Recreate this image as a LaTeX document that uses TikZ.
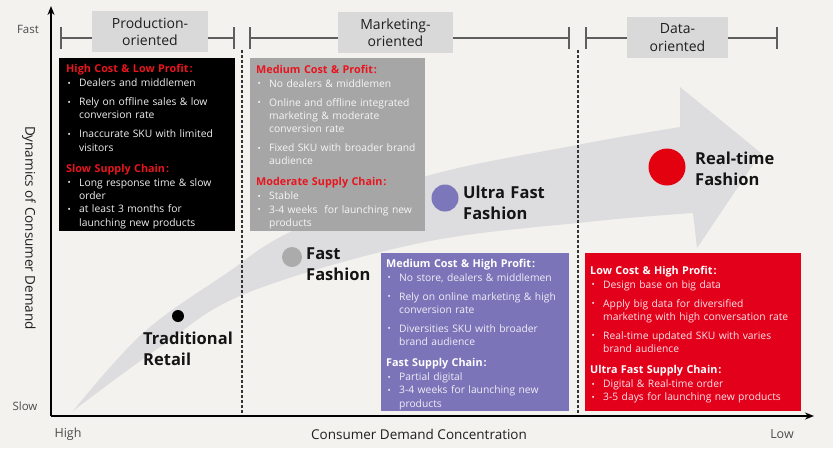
\documentclass[tikz,border=0pt]{standalone}
\usepackage{fontspec}
\setmainfont{Open Sans}
\usetikzlibrary{arrows.meta}
\definecolor{bg}{HTML}{F3F2EE}
\definecolor{bandc}{HTML}{DDDDDF}
\definecolor{lblc}{HTML}{D9D9D9}
\definecolor{gboxc}{HTML}{A6A6A6}
\definecolor{pboxc}{HTML}{7B74B8}
\definecolor{rboxc}{HTML}{E3001B}
\definecolor{hred}{HTML}{E8141E}
\definecolor{rdotc}{HTML}{E3000F}
\definecolor{pdotc}{HTML}{7B77BA}
\definecolor{gdotc}{HTML}{ABABAB}
\definecolor{brkc}{HTML}{5E5E5E}
\newcommand\hd[1]{{\bfseries\fontsize{10.8}{13.3}\selectfont #1\hspace{1pt}:}}
\newcommand\bi{\hspace*{1.5pt}\makebox[11.5pt][l]{\raisebox{0.4pt}{\fontsize{8.5}{9}\selectfont\textbullet}}}
\newcommand\ci{\hspace*{13pt}}
\tikzset{
  boxbg/.style={anchor=north west, inner sep=0pt, draw=none},
  boxtxt/.style={anchor=base west, inner sep=0pt, align=left, text width=240pt, font=\fontsize{10.3}{13.3}\selectfont},
  lblbox/.style={fill=lblc, inner sep=0pt, align=center, font=\fontsize{14}{17.5}\selectfont, text=black!88},
  brk/.style={draw=brkc, line width=1.5pt},
  dashln/.style={draw=black!80, line width=1.2pt, dash pattern=on 3pt off 2pt},
  axisln/.style={draw=black, line width=2pt, -{Stealth[length=9pt,width=7pt]}},
  dotn/.style={circle, inner sep=0pt},
  lab/.style={anchor=base west, inner sep=0pt, align=left, text width=110pt, font=\bfseries\fontsize{16.5}{21}\selectfont, text=black!92},
  axtxt/.style={inner sep=0pt, font=\fontsize{11.5}{13}\selectfont, text=black!70},
}
\begin{document}
\begin{tikzpicture}[x=1pt,y=-1pt]
\useasboundingbox (0,0) rectangle (833,448);
\fill[bg] (0,0) rectangle (833,448);

% big curved arrow
\fill[bandc] (73,411) -- plot[smooth, tension=0.6] coordinates {(73,411) (143,333) (227,273) (290,232) (420,178) (577,145) (680,127)}
  -- (680,87) -- (761,153) -- (697,248) -- (693,213)
  -- plot[smooth, tension=0.6] coordinates {(693,213) (587,222) (420,243) (247,293) (160,347) (73,411)} -- cycle;

% dashed separators
\coordinate (d1t) at (242,50); \coordinate (d1b) at (242,416);
\coordinate (d2t) at (578,50); \coordinate (d2b) at (578,416);
\draw[dashln] (d1t) -- (d1b);
\draw[dashln] (d2t) -- (d2b);

% boxes
\node[boxbg, fill=black, minimum width=176, minimum height=173] (bbox) at (59,58) {};
\node[boxbg, fill=gboxc, minimum width=175, minimum height=173] (gbox) at (250,58) {};
\node[boxbg, fill=pboxc, minimum width=188, minimum height=158] (pbox) at (381,253) {};
\node[boxbg, fill=rboxc, minimum width=216, minimum height=158] (rbox) at (585,253) {};

\node[boxtxt, text=white!94!black] (btxt) at (66,72.5) {%
{\color{hred}\hd{High Cost \& Low Profit}}\\[0.7pt]
\bi Dealers and middlemen\\[5.7pt]
\bi Rely on offline sales \& low\\
\ci conversion rate\\[5.7pt]
\bi Inaccurate SKU with limited\\
\ci visitors\\[7.7pt]
{\color{hred}\hd{Slow Supply Chain}}\\[0.7pt]
\bi Long response time \& slow\\
\ci order\\
\bi at least 3 months for\\
\ci launching new products};

\node[boxtxt, text=white!90!gboxc] (gtxt) at (256,73) {%
{\color{hred}\hd{Medium Cost \& Profit}}\\[0.7pt]
\bi No dealers \& middlemen\\[5.7pt]
\bi Online and offline integrated\\
\ci marketing \& moderate\\
\ci conversion rate\\[5.7pt]
\bi Fixed SKU with broader brand\\
\ci audience\\[7.7pt]
{\color{hred}\hd{Moderate Supply Chain}}\\[0.7pt]
\bi Stable\\
\bi 3-4 weeks\ \ for launching new\\
\ci products};

\node[boxtxt, text=white!88!pboxc] (ptxt) at (386,267) {%
{\color{white}\hd{Medium Cost \& High Profit}}\\[0.7pt]
\bi No store, dealers \& middlemen\\[5.7pt]
\bi Rely on online marketing \& high\\
\ci conversion rate\\[5.7pt]
\bi Diversities SKU with broader\\
\ci brand audience\\[7.7pt]
{\color{white}\hd{Fast Supply Chain}}\\[0.7pt]
\bi Partial digital\\
\bi 3-4 weeks for launching new\\
\ci products};

\node[boxtxt, text=white!90!rboxc] (rtxt) at (590,274) {%
{\color{white}\hd{Low Cost \& High Profit}}\\[0.7pt]
\bi Design base on big data\\[5.7pt]
\bi Apply big data for diversified\\
\ci marketing with high conversation rate\\[5.7pt]
\bi Real-time updated SKU with varies\\
\ci brand audience\\[7.7pt]
{\color{white}\hd{Ultra Fast Supply Chain}}\\[0.7pt]
\bi Digital \& Real-time order\\
\bi 3-5 days for launching new products};

% dots and labels
\node[dotn, fill=black, minimum size=12pt] (trd) at (178,316) {};
\node[lab] (trl) at (143,344) {Traditional\\Retail};
\node[dotn, fill=gdotc, minimum size=20pt] (ffd) at (292,257) {};
\node[lab] (ffl) at (306,259) {Fast\\Fashion};
\node[dotn, fill=pdotc, minimum size=27pt] (ufd) at (445,198) {};
\node[lab] (ufl) at (463,198) {Ultra Fast\\Fashion};
\node[dotn, fill=rdotc, minimum size=37pt] (rtd) at (667,167) {};
\node[lab] (rtl) at (695,164) {Real-time\\Fashion};

% axes
\coordinate (O) at (51,416);
\coordinate (Yt) at (51,6);
\coordinate (Xt) at (814,416);
\draw[axisln] (O) -- (Yt);
\draw[axisln] (O) -- (Xt);

\node[axtxt] (fast) at (28,29) {Fast};
\node[axtxt] (slow) at (25,406) {Slow};
\node[axtxt, font=\fontsize{12.5}{14}\selectfont] (high) at (68,434) {High};
\node[axtxt, font=\fontsize{12.5}{14}\selectfont] (low) at (782,434) {Low};
\node[axtxt, font=\fontsize{13.5}{15}\selectfont, text=black!88] (xlab) at (419,434) {Consumer Demand Concentration};
\node[axtxt, font=\fontsize{13.5}{15}\selectfont, text=black!88, rotate=-90] (ylab) at (29,228) {Dynamics of Consumer Demand};

% phase brackets
\node[lblbox, minimum width=116, minimum height=41] (prodl) at (150,31.5) {Production-\\oriented};
\node[lblbox, minimum width=115, minimum height=41] (mktl) at (395.5,32.5) {Marketing-\\oriented};
\node[lblbox, minimum width=101, minimum height=41] (datl) at (677.5,37.5) {Data-\\oriented};

\coordinate (p1) at (61,38); \coordinate (p2) at (234,38);
\coordinate (m1) at (250,38); \coordinate (m2) at (569,38);
\coordinate (q1) at (586,38); \coordinate (q2) at (777,38);
\foreach \c in {p1,p2,m1,m2,q1,q2}{\draw[brk] ([yshift=-11pt]\c) -- ([yshift=11pt]\c);}
\draw[brk] (p1) -- (p1 -| prodl.west);
\draw[brk] (p2) -- (p2 -| prodl.east);
\draw[brk] (m1) -- (m1 -| mktl.west);
\draw[brk] (m2) -- (m2 -| mktl.east);
\draw[brk] (q1) -- (q1 -| datl.west);
\draw[brk] (q2) -- (q2 -| datl.east);
\end{tikzpicture}
\end{document}
